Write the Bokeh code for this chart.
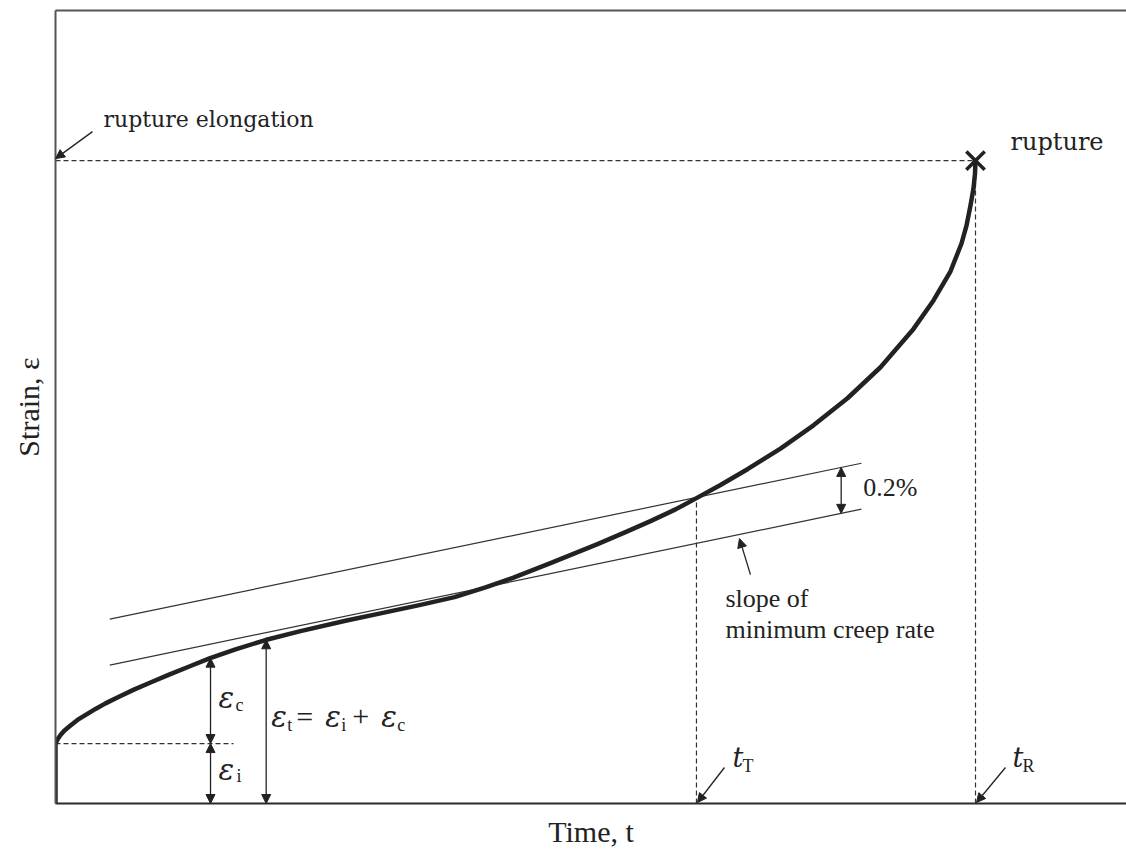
from bokeh.plotting import figure
from bokeh.models import Range1d, Arrow, NormalHead, Label, LinearAxis, FixedTicker
from bokeh.embed import file_html
from bokeh.resources import INLINE

# ---------------- data (time in h, strain in %) ----------------
time_h = [0, 0, 0.217, 0.543, 0.978, 1.630, 2.391, 3.152, 4.348, 5.435, 7.065,
          8.587, 10.326, 12.283, 14.674, 16.739, 19.565, 22.826, 26.630, 31.522,
          35.326, 39.674, 43.370, 46.739, 49.783, 53.804, 58.913, 61.957, 64.674,
          67.391, 69.674, 72.283, 75.217, 78.804, 82.391, 86.087, 89.674, 93.261,
          95.435, 97.283, 98.478, 99.022, 99.457, 99.783, 99.946, 100.0]
strain_pct = [0, 0.261, 0.279, 0.298, 0.318, 0.340, 0.364, 0.383, 0.412, 0.436,
              0.468, 0.497, 0.527, 0.560, 0.599, 0.632, 0.671, 0.712, 0.751, 0.796,
              0.828, 0.865, 0.899, 0.941, 0.984, 1.047, 1.130, 1.182, 1.230, 1.281,
              1.330, 1.387, 1.456, 1.546, 1.647, 1.765, 1.900, 2.067, 2.191, 2.318,
              2.439, 2.517, 2.605, 2.679, 2.744, 2.800]

tangent_t = [5.9, 87.6]            # minimum-creep-rate lines
tangent_lower = [0.603, 1.282]
tangent_upper = [0.803, 1.482]     # offset by 0.2 %

t_T = 69.67          # time at 0.2 % offset intersection
t_R = 100.0          # rupture time
eps_rupture = 2.80   # rupture elongation
eps_i = 0.261        # instantaneous strain
t_eps_c = 16.85      # where eps_c / eps_i are marked
eps_at_c = 0.633
t_eps_t = 22.9       # where eps_t is marked
eps_t = 0.713
t_offset_mark = 85.4
eps_i_line_end = 19.35

# ---------------- layout scale ----------------
PX_T = 9.2     # px per hour
PX_S = 229.6   # px per % strain
FRAME_W, FRAME_H = 1071, 793

p = figure(width=1126, height=852, output_backend="svg", toolbar_location=None,
           x_range=Range1d(0, FRAME_W / PX_T), y_range=Range1d(0, FRAME_H / PX_S),
           min_border_left=55, min_border_right=0, min_border_top=10, min_border_bottom=49)
p.grid.visible = False
p.outline_line_color = None
p.background_fill_color = "white"
p.border_fill_color = "white"

for ax in (p.xaxis[0], p.yaxis[0]):
    ax.ticker = FixedTicker(ticks=[])
    ax.major_tick_out = 0
    ax.major_tick_in = 0
    ax.minor_tick_out = 0
    ax.minor_tick_in = 0
    ax.major_label_text_font_size = "0px"
    ax.major_label_standoff = 0
    ax.axis_line_width = 2
    ax.axis_label_text_font = "Liberation Serif"
    ax.axis_label_text_font_size = "30px"
    ax.axis_label_text_font_style = "normal"
    ax.axis_label_text_color = "#222222"
    ax.axis_label_standoff = 11
p.xaxis[0].axis_label = "Time, t"
p.yaxis[0].axis_label = "Strain, \u03b5"
p.xaxis[0].axis_line_color = "#2a2a2a"
p.yaxis[0].axis_line_color = "#555555"

top_axis = LinearAxis(ticker=FixedTicker(ticks=[]), major_tick_out=0, major_tick_in=0,
                      minor_tick_out=0, minor_tick_in=0, major_label_standoff=0,
                      major_label_text_font_size="0px", axis_line_width=2,
                      axis_line_color="#555555")
p.add_layout(top_axis, "above")

INK = "#222222"
DASH = "5 3"

# tangent lines
p.line(tangent_t, tangent_upper, line_width=1.2, line_color="#333333")
p.line(tangent_t, tangent_lower, line_width=1.2, line_color="#333333")

# dashed guide lines
slope = (tangent_upper[1] - tangent_upper[0]) / (tangent_t[1] - tangent_t[0])
eps_T = tangent_upper[0] + slope * (t_T - tangent_t[0])
p.line([0, t_R], [eps_rupture, eps_rupture], line_dash=DASH, line_width=1.2, line_color="#333333")
p.line([t_R, t_R], [0, eps_rupture], line_dash=DASH, line_width=1.2, line_color="#333333")
p.line([t_T, t_T], [0, eps_T], line_dash=DASH, line_width=1.2, line_color="#333333")
p.line([0, eps_i_line_end], [eps_i, eps_i], line_dash=DASH, line_width=1.2, line_color="#333333")

# creep curve
p.line(time_h, strain_pct, line_width=4.5, line_color=INK, line_join="round", line_cap="round")

# rupture marker
p.scatter([t_R], [eps_rupture], marker="x", size=26, line_width=3.5, line_color=INK)


def head():
    return NormalHead(size=9, fill_color=INK, line_color=INK, line_width=1)


def arrow(x0, y0, x1, y1, double=False):
    a = Arrow(x_start=x0, y_start=y0, x_end=x1, y_end=y1, end=head(),
              start=head() if double else None, line_color=INK, line_width=1.3)
    p.add_layout(a)


# strain component arrows
arrow(t_eps_c, eps_i, t_eps_c, eps_at_c, double=True)
arrow(t_eps_c, 0, t_eps_c, eps_i, double=True)
arrow(t_eps_t, 0, t_eps_t, eps_t, double=True)

# 0.2 % offset arrow
lo = tangent_lower[0] + slope * (t_offset_mark - tangent_t[0])
arrow(t_offset_mark, lo, t_offset_mark, lo + 0.2, double=True)

# pointer arrows
arrow(37 / PX_T, eps_rupture + 29 / PX_S, 0, eps_rupture + 2 / PX_S)
arrow(t_T + 28 / PX_T, 36 / PX_S, t_T + 1 / PX_T, 1 / PX_S)
arrow(t_R + 30 / PX_T, 36 / PX_S, t_R + 1 / PX_T, 1 / PX_S)
slope_tail_t, slope_tail_s = 75.54, 0.997
arrow(slope_tail_t, slope_tail_s, slope_tail_t - 11 / PX_T, slope_tail_s + 36 / PX_S)

SERIF_A = "DejaVu Serif"
SERIF_B = "Liberation Serif"


def lab(x, y, text, dx=0, dy=0, font=SERIF_B, size="26px", style="normal",
        baseline="middle", align="left"):
    p.add_layout(Label(x=x, y=y, x_offset=dx, y_offset=dy, text=text,
                       text_font=font, text_font_size=size, text_font_style=style,
                       text_baseline=baseline, text_align=align, text_color=INK))


# annotation texts
lab(0, eps_rupture, "rupture elongation", dx=48, dy=41, font=SERIF_A, size="22px")
lab(t_R, eps_rupture, "rupture", dx=35, dy=19, font=SERIF_A, size="24px")
lab(t_offset_mark, lo + 0.1, "0.2%", dx=22, dy=3, font=SERIF_B, size="26px")
lab(slope_tail_t, slope_tail_s, "slope of", dx=-25, dy=-24, font=SERIF_B, size="26px")
lab(slope_tail_t, slope_tail_s, "minimum creep rate", dx=-25, dy=-55, font=SERIF_B, size="26px")

EPS = "\u03b5"
EPS_KW = dict(font=SERIF_A, size="29px", style="italic", baseline="alphabetic")
SUB_KW = dict(font=SERIF_B, size="18px", baseline="alphabetic")
# eps_c
lab(t_eps_c, eps_i, EPS, dx=8, dy=46, **EPS_KW)
lab(t_eps_c, eps_i, "c", dx=25, dy=39, **SUB_KW)
# eps_i
lab(t_eps_c, 0, EPS, dx=8, dy=34, **EPS_KW)
lab(t_eps_c, 0, "i", dx=26, dy=28, **SUB_KW)
# eps_t = eps_i + eps_c
lab(t_eps_t, 0, EPS, dx=5, dy=87, **EPS_KW)
lab(t_eps_t, 0, "t", dx=21, dy=79, **SUB_KW)
lab(t_eps_t, 0, "=", dx=30, dy=87, font=SERIF_B, size="30px", baseline="alphabetic")
lab(t_eps_t, 0, EPS, dx=59, dy=87, **EPS_KW)
lab(t_eps_t, 0, "i", dx=75, dy=79, **SUB_KW)
lab(t_eps_t, 0, "+", dx=86, dy=87, font=SERIF_B, size="30px", baseline="alphabetic")
lab(t_eps_t, 0, EPS, dx=115, dy=87, **EPS_KW)
lab(t_eps_t, 0, "c", dx=131, dy=79, **SUB_KW)

# t_T and t_R
T_KW = dict(font=SERIF_A, size="27px", style="italic", baseline="alphabetic")
lab(t_T, 0, "t", dx=36, dy=46, **T_KW)
lab(t_T, 0, "T", dx=46, dy=38, **SUB_KW)
lab(t_R, 0, "t", dx=37, dy=46, **T_KW)
lab(t_R, 0, "R", dx=47, dy=38, **SUB_KW)

open("out.html", "w").write(file_html(p, INLINE))
